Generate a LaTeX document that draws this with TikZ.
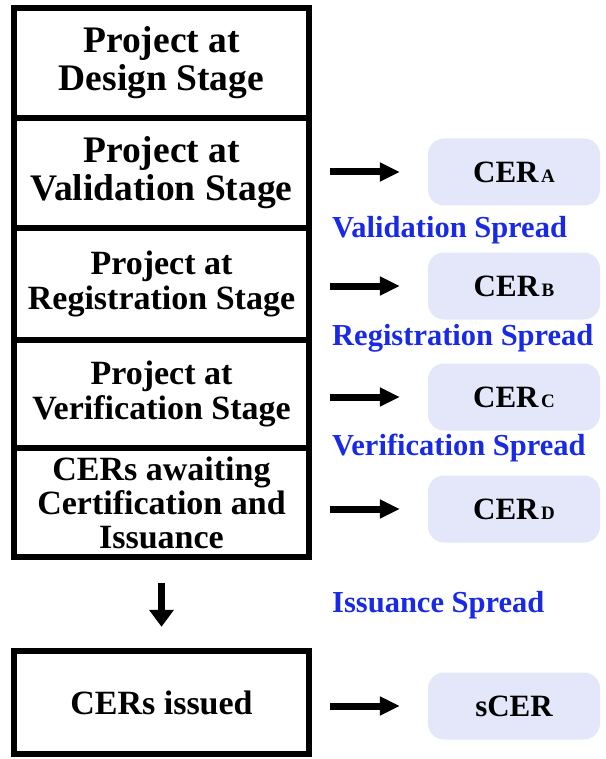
\documentclass[tikz,border=0pt]{standalone}
\usepackage{fontspec}
\setmainfont{Liberation Serif}
\usetikzlibrary{arrows.meta,calc}
\definecolor{cerfill}{RGB}{228,231,250}
\definecolor{spreadblue}{RGB}{24,42,230}
\begin{document}
\begin{tikzpicture}[x=1pt,y=-1pt,
 stage/.style={draw, line width=6.5pt, minimum width=295pt, inner sep=0pt, align=center},
 bigfont/.style={font=\bfseries\fontsize{37.5}{38}\selectfont},
 midfont/.style={font=\bfseries\fontsize{34}{35}\selectfont},
 cer/.style={fill=cerfill, rounded corners=16pt, minimum width=172pt, minimum height=67pt, inner sep=0pt, font=\bfseries\fontsize{31}{32}\selectfont},
 spread/.style={anchor=base west, text=spreadblue, inner sep=0pt, font=\bfseries\fontsize{30.5}{31}\selectfont},
 bigarrow/.style={line width=7pt, -{Triangle[length=20pt,width=18pt]}},
 downarrow/.style={line width=7pt, -{Triangle[length=17pt,width=24pt]}},
]
\useasboundingbox (0,0) rectangle (605,759);
\newcommand{\subl}[1]{\kern2.5pt{\fontsize{19}{19}\selectfont #1}}
% left stack
\node[stage, bigfont, minimum height=110pt] (s1) at (161.5,63) {Project at\\Design Stage};
\node[stage, bigfont, minimum height=110pt] (s2) at (161.5,173) {Project at\\Validation Stage};
\node[stage, midfont, minimum height=112pt] (s3) at (161.5,284) {Project at\\Registration Stage};
\node[stage, midfont, minimum height=108pt] (s4) at (161.5,394) {Project at\\Verification Stage};
\node[stage, font=\bfseries\fontsize{34}{34}\selectfont, minimum height=109pt] (s5) at (161.5,502.5) {CERs awaiting\\Certification and\\Issuance};
\node[stage, midfont, minimum height=103pt] (s6) at (161.5,702.5) {CERs issued};
% CER boxes
\node[cer] (cerA) at (514,172) {CER\subl{A}};
\node[cer] (cerB) at (514,286) {CER\subl{B}};
\node[cer] (cerC) at (514,397) {CER\subl{C}};
\node[cer] (cerD) at (514,509) {CER\subl{D}};
\node[cer] (cerS) at (514,706) {sCER};
% spreads
\node[spread] (vs) at (332,237) {Validation Spread};
\node[spread] (rs) at (332,345) {Registration Spread};
\node[spread] (fs) at (332,455) {Verification Spread};
\node[spread] (is) at (332,612) {Issuance Spread};
% arrows
\draw[bigarrow] ([xshift=18pt]s2.east |- cerA.west) -- ([xshift=-28pt]cerA.west);
\draw[bigarrow] ([xshift=18pt]s3.east |- cerB.west) -- ([xshift=-28pt]cerB.west);
\draw[bigarrow] ([xshift=18pt]s4.east |- cerC.west) -- ([xshift=-28pt]cerC.west);
\draw[bigarrow] ([xshift=18pt]s5.east |- cerD.west) -- ([xshift=-28pt]cerD.west);
\draw[bigarrow] ([xshift=18pt]s6.east |- cerS.west) -- ([xshift=-28pt]cerS.west);
\draw[downarrow] ([yshift=-23pt]s5.south) -- ([yshift=21pt]s6.north);
\end{tikzpicture}
\end{document}
